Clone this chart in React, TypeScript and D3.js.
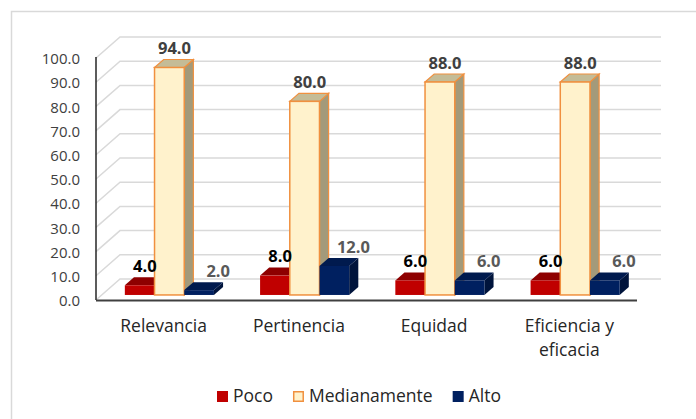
import React, { useEffect, useRef } from 'react'
import * as d3 from 'd3'

const categories = ['Relevancia', 'Pertinencia', 'Equidad', 'Eficiencia y eficacia']
const seriesNames = ['Poco', 'Medianamente', 'Alto']
const poco = [4.0, 8.0, 6.0, 6.0]
const medianamente = [94.0, 80.0, 88.0, 88.0]
const alto = [2.0, 12.0, 6.0, 6.0]
const yTicks = [0, 10, 20, 30, 40, 50, 60, 70, 80, 90, 100]

const W = 696
const H = 419
const FONT = '"Open Sans", "Noto Sans", sans-serif'

// face colours per series: front, top, side, stroke, label colour
const styles = [
  { front: '#c00000', top: '#8e0000', side: '#760000', stroke: 'none', label: '#000000' },
  { front: '#fff2cc', top: '#c4bc97', side: '#a39a7a', stroke: '#f0903f', label: '#404040' },
  { front: '#002060', top: '#001a4e', side: '#00143c', stroke: 'none', label: '#595959' },
]

const App = () => {
  const ref = useRef<SVGSVGElement>(null)

  useEffect(() => {
    const svg = d3.select(ref.current)
    svg.selectAll('*').remove()

    const left = 96
    const right = 637
    const depthX = 24
    const depthY = 21
    const z0 = 0.24
    const z1 = 0.62

    const y = d3.scaleLinear().domain([0, 100]).range([300, 58])
    const x0 = d3.scaleBand().domain(categories).range([left, right])
    const barW = 29.7
    const x1 = d3
      .scaleBand()
      .domain(seriesNames)
      .range([-barW * 1.5, barW * 1.5])

    const P = (px: number, v: number, z: number): [number, number] => [
      px + z * depthX,
      y(v) - z * depthY,
    ]

    // outer border
    svg
      .append('rect')
      .attr('x', 11.5)
      .attr('y', 11.5)
      .attr('width', 720)
      .attr('height', 440)
      .attr('fill', '#fff')
      .attr('stroke', '#d9d9d9')
      .attr('stroke-width', 1.5)

    // back wall grid + left wall diagonals
    const grid = svg.append('g').attr('stroke', '#d9d9d9').attr('stroke-width', 1.5).attr('fill', 'none')
    yTicks.forEach((t) => {
      const a = P(left, t, 0)
      const b = P(left, t, 1)
      const c = P(right, t, 1)
      grid.append('polyline').attr('points', [a, b, c].map((p) => p.join(',')).join(' '))
    })

    // axes
    svg
      .append('line')
      .attr('x1', left)
      .attr('x2', left)
      .attr('y1', y(100) - 1)
      .attr('y2', y(0))
      .attr('stroke', '#262626')
      .attr('stroke-width', 1.5)
    svg
      .append('line')
      .attr('x1', left)
      .attr('x2', right)
      .attr('y1', y(0) + 0.5)
      .attr('y2', y(0) + 0.5)
      .attr('stroke', '#404040')
      .attr('stroke-width', 2)

    // y tick labels
    svg
      .append('g')
      .selectAll('text')
      .data(yTicks)
      .enter()
      .append('text')
      .attr('x', 80)
      .attr('y', (d) => y(d) + 1)
      .attr('dy', '0.35em')
      .attr('text-anchor', 'end')
      .attr('fill', '#404040')
      .style('font-family', FONT)
      .style('font-size', '15px')
      .text((d) => d.toFixed(1))

    const series = [poco, medianamente, alto]
    const poly = (pts: [number, number][]) => pts.map((p) => p.join(',')).join(' ')

    categories.forEach((cat, ci) => {
      const cx = (x0(cat) as number) + x0.bandwidth() / 2
      series.forEach((vals, si) => {
        const v = vals[ci]
        const st = styles[si]
        const xl = cx + (x1(seriesNames[si]) as number)
        const xr = xl + barW
        const g = svg.append('g')
        // side face
        g.append('polygon')
          .attr('points', poly([P(xr, 0, z0), P(xr, 0, z1), P(xr, v, z1), P(xr, v, z0)]))
          .attr('fill', st.side)
          .attr('stroke', st.stroke)
          .attr('stroke-width', 1.2)
        // top face
        g.append('polygon')
          .attr('points', poly([P(xl, v, z0), P(xl, v, z1), P(xr, v, z1), P(xr, v, z0)]))
          .attr('fill', st.top)
          .attr('stroke', st.stroke)
          .attr('stroke-width', 1.2)
        // front face
        const [fx, fy] = P(xl, v, z0)
        const [, by] = P(xl, 0, z0)
        g.append('rect')
          .attr('x', fx)
          .attr('y', fy)
          .attr('width', barW)
          .attr('height', by - fy)
          .attr('fill', st.front)
          .attr('stroke', st.stroke)
          .attr('stroke-width', 1.5)
      })
    })

    // data labels
    categories.forEach((cat, ci) => {
      const cx = (x0(cat) as number) + x0.bandwidth() / 2
      series.forEach((vals, si) => {
        const v = vals[ci]
        const st = styles[si]
        const xl = cx + (x1(seriesNames[si]) as number)
        const [tx, ty] = P(xl + barW / 2, v, z1)
        svg
          .append('text')
          .attr('x', tx - 4 + (si === 2 ? 14 : 0))
          .attr('y', ty - 11)
          .attr('dy', '0.35em')
          .attr('text-anchor', 'middle')
          .attr('fill', st.label)
          .style('font-family', FONT)
          .style('font-size', '16.5px')
          .style('font-weight', 'bold')
          .text(v.toFixed(1))
      })
    })

    // category labels
    const catLines: Record<string, string[]> = {
      'Eficiencia y eficacia': ['Eficiencia y', 'eficacia'],
    }
    categories.forEach((cat) => {
      const cx = (x0(cat) as number) + x0.bandwidth() / 2
      const lines = catLines[cat] || [cat]
      const t = svg
        .append('text')
        .attr('text-anchor', 'middle')
        .attr('fill', '#262626')
        .style('font-family', FONT)
        .style('font-size', '17.5px')
      lines.forEach((l, i) => {
        t.append('tspan').attr('x', cx).attr('y', 332 + i * 24).text(l)
      })
    })

    // legend
    const legend = svg.append('g')
    let lx = 217
    seriesNames.forEach((name, si) => {
      const st = styles[si]
      legend
        .append('rect')
        .attr('x', lx + (si === 1 ? 0.75 : 0))
        .attr('y', 391 + (si === 1 ? 0.75 : 0))
        .attr('width', si === 1 ? 9.5 : 11)
        .attr('height', si === 1 ? 9.5 : 11)
        .attr('fill', st.front)
        .attr('stroke', st.stroke)
        .attr('stroke-width', 1.5)
      const t = legend
        .append('text')
        .attr('x', lx + 16)
        .attr('y', 402)
        .attr('fill', '#262626')
        .style('font-family', FONT)
        .style('font-size', '17.5px')
        .text(name)
      const w = (t.node() as SVGTextElement).getComputedTextLength()
      lx += 16 + w + 20
    })
  }, [])

  return (
    <svg
      ref={ref}
      width={W}
      height={H}
      style={{ position: 'absolute', left: 0, top: 0, background: '#fff' }}
    />
  )
}

export default App
